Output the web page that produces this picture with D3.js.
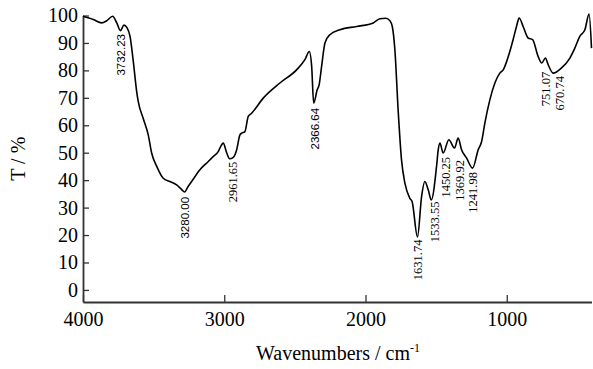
<!DOCTYPE html>
<html>
<head>
<meta charset="utf-8">
<script src="https://cdn.jsdelivr.net/npm/d3@7"></script>
<style>
    body { margin: 0; background: #fff; }
    svg { display: block; }
</style>
</head>
<body>
<svg id="chart"></svg>
<script>
// FTIR spectrum
const wavenumbers = [4000, 3927, 3868, 3832, 3790, 3761, 3735, 3710, 3689, 3667, 3644, 3620, 3609, 3573, 3538, 3514, 3478, 3432, 3384, 3337, 3306, 3280, 3257, 3231, 3172, 3113, 3078, 3043, 3023, 3007, 2983, 2962, 2936, 2912, 2889, 2877, 2854, 2830, 2806, 2724, 2606, 2488, 2429, 2398, 2381, 2367, 2342, 2328, 2311, 2287, 2252, 2181, 2063, 1945, 1898, 1856, 1827, 1810, 1792, 1769, 1745, 1721, 1686, 1670, 1632, 1603, 1580, 1556, 1534, 1497, 1485, 1473, 1450, 1410, 1370, 1344, 1320, 1284, 1242, 1202, 1178, 1155, 1084, 1049, 1025, 978, 955, 931, 912, 884, 849, 817, 778, 752, 726, 707, 671, 612, 553, 518, 483, 447, 417, 400];
const transmittance = [99.7, 98.5, 97.3, 98.1, 99.7, 97.3, 94.5, 96.5, 95.6, 92.4, 83.3, 72.3, 68.7, 62.4, 56.5, 49.9, 45.0, 40.7, 39.5, 38.3, 36.8, 35.7, 37.6, 39.5, 43.8, 46.8, 48.6, 50.4, 52.5, 53.5, 50.0, 47.8, 48.3, 51.1, 56.5, 57.1, 57.7, 63.2, 64.4, 69.9, 75.4, 80.2, 83.9, 86.9, 81.4, 68.1, 72.9, 74.8, 81.4, 90.0, 93.0, 94.8, 96.0, 97.3, 98.8, 99.0, 98.1, 95.9, 87.5, 65.6, 47.4, 38.9, 33.4, 32.2, 19.3, 34.0, 39.5, 36.5, 32.8, 45.0, 51.1, 53.5, 49.9, 54.7, 51.7, 55.3, 51.1, 48.0, 44.4, 51.1, 54.1, 60.8, 75.4, 79.0, 80.2, 86.9, 91.2, 96.0, 99.1, 96.0, 91.8, 91.2, 85.1, 82.7, 84.5, 82.1, 79.0, 80.9, 84.5, 88.1, 92.4, 94.8, 100.5, 88.1];

const peakPositions = [3732.23, 3280.00, 2961.65, 2366.64, 1631.74, 1533.55, 1450.25, 1369.92, 1241.98, 751.07, 670.74];
const peakTexts = ["3732.23", "3280.00", "2961.65", "2366.64", "1631.74", "1533.55", "1450.25", "1369.92", "1241.98", "751.07", "670.74"];

const xTicks = [4000, 3000, 2000, 1000];
const yTicks = [0, 10, 20, 30, 40, 50, 60, 70, 80, 90, 100];

const drawSpectrum = (svgId) => {
    const width = 593, height = 369;
    const serif = "'Liberation Serif', 'Times New Roman', serif";
    const sans = "'Liberation Sans', Arial, sans-serif";

    const svg = d3.select(svgId)
                  .attr("width", width)
                  .attr("height", height);

    svg.selectAll("*").remove();

    const xScale = d3.scaleLinear()
                     .domain([4000, 400])
                     .range([83, 591.5]);

    const yScale = d3.scaleLinear()
                     .domain([-4.4, 100])
                     .range([302, 15.5]);

    // axes, ticks pointing inward
    const xAxis = svg.append("g")
                     .attr("transform", `translate(0, ${yScale.range()[0]})`)
                     .call(d3.axisBottom(xScale)
                             .tickValues(xTicks)
                             .tickFormat(d3.format("d"))
                             .tickSizeInner(-7)
                             .tickSizeOuter(0)
                             .tickPadding(10));

    const yAxis = svg.append("g")
                     .attr("transform", `translate(${xScale.range()[0]}, 0)`)
                     .call(d3.axisLeft(yScale)
                             .tickValues(yTicks)
                             .tickSizeInner(-6)
                             .tickSizeOuter(0)
                             .tickPadding(5));

    [xAxis, yAxis].forEach(g => {
        g.select(".domain").attr("stroke", "#333").attr("stroke-width", 1.8);
        g.selectAll(".tick line").attr("stroke", "#333").attr("stroke-width", 1.3);
        g.selectAll(".tick text")
         .attr("font-family", serif)
         .attr("font-size", 20)
         .attr("fill", "#000");
    });

    // spectrum
    const points = wavenumbers.map((w, i) => [w, transmittance[i]]);
    const line = d3.line()
                   .x(d => xScale(d[0]))
                   .y(d => yScale(d[1]))
                   .curve(d3.curveMonotoneX);

    svg.append("path")
       .datum(points)
       .attr("d", line)
       .attr("fill", "none")
       .attr("stroke", "#000")
       .attr("stroke-width", 1.6)
       .attr("stroke-linejoin", "round");

    // T at a wavenumber, linear between the traced points
    const valueAt = w => {
        for (let i = 1; i < wavenumbers.length; i++) {
            if (w >= wavenumbers[i]) {
                const t = (wavenumbers[i - 1] - w) / (wavenumbers[i - 1] - wavenumbers[i]);
                return transmittance[i - 1] + t * (transmittance[i] - transmittance[i - 1]);
            }
        }
        return transmittance[transmittance.length - 1];
    };

    // small nudges so crowded labels don't collide (px)
    const nudge = [[0, 0], [0, 1], [3, -1], [1, 1], [0, -1], [3.5, -2], [2, 0], [5, 8], [0.5, 0], [4, 5], [6, -1]];
    const sansLabels = ["3732.23", "3280.00", "2366.64"];

    svg.selectAll("text.peak")
       .data(peakPositions)
       .enter()
       .append("text")
       .attr("class", "peak")
       .attr("transform", (d, i) => {
           const px = xScale(d) + nudge[i][0];
           const py = yScale(valueAt(d)) + 4 + nudge[i][1];
           return `translate(${px}, ${py}) rotate(-90)`;
       })
       .attr("dy", "0.35em")
       .attr("text-anchor", "end")
       .attr("font-family", (_, i) => sansLabels.includes(peakTexts[i]) ? sans : serif)
       .attr("font-size", (_, i) => sansLabels.includes(peakTexts[i]) ? 11.5 : 12.5)
       .attr("fill", "#000")
       .text((_, i) => peakTexts[i]);

    // axis titles
    svg.append("text")
       .attr("transform", `translate(25, ${(yScale.range()[0] + yScale.range()[1]) / 2}) rotate(-90)`)
       .attr("text-anchor", "middle")
       .attr("font-family", serif)
       .attr("font-size", 20)
       .text("T / %");

    const title = svg.append("text")
                     .attr("x", 338)
                     .attr("y", 360)
                     .attr("text-anchor", "middle")
                     .attr("font-family", serif)
                     .attr("font-size", 20);
    title.append("tspan").text("Wavenumbers / cm");
    title.append("tspan")
         .attr("font-size", 12)
         .attr("dy", -8)
         .text("-1");
};

drawSpectrum("#chart");
</script>
</body>
</html>
